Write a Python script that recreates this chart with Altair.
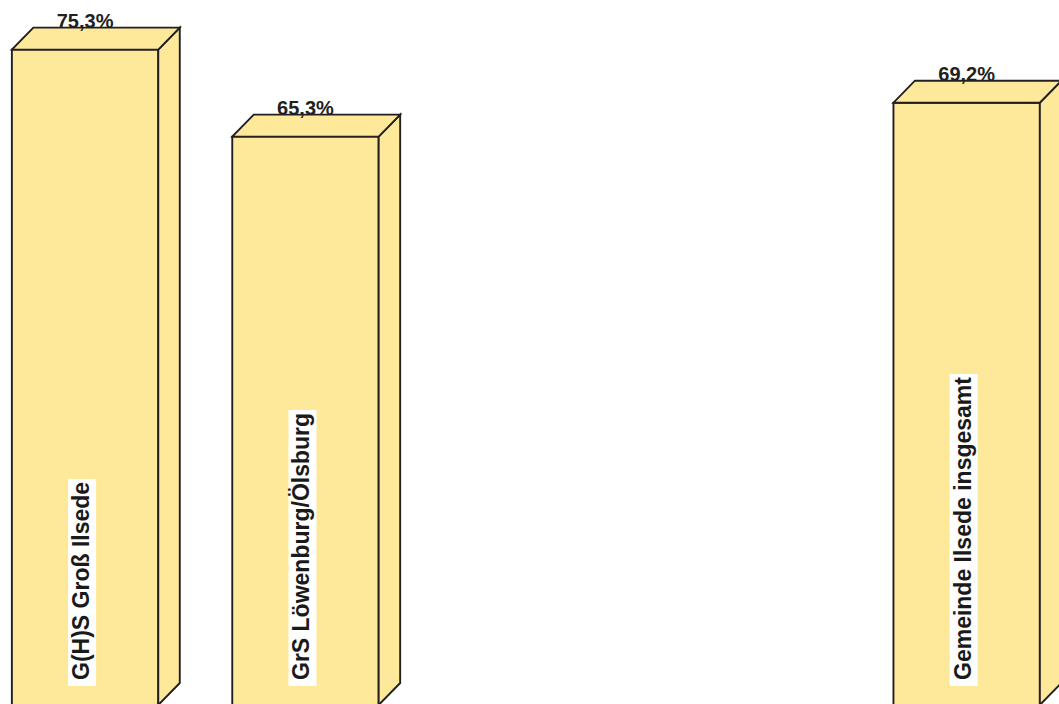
import altair as alt
import pandas as pd

# ---- data ----
categories = ["G(H)S Groß Ilsede", "GrS Löwenburg/Ölsburg", "Gemeinde Ilsede insgesamt"]
slots = [0, 1, 4]            # positions among 5 category slots (slots 2 and 3 are empty)
values = [75.3, 65.3, 69.2]  # percent

# ---- layout / style ----
W, H = 1059, 705
YMAX = 81.0
XMIN, XMAX = -0.386, 4.419
PXY = H / YMAX
PXX = W / (XMAX - XMIN)
HALF = 73.2 / PXX      # half width of front face (x units)
DX = 21.5 / PXX        # 3D depth, horizontal
DY = 22.0 / PXY        # 3D depth, vertical
FILL = "#FEE99A"
EDGE = "#231F20"
TEXT = "#1A1A1A"
FONT = "Liberation Sans"
LABEL_SIZE = 23
SW = 1.9

# approximate Arial-Bold glyph widths (em) to size the white label boxes
METRICS = {
    0.278: " iIl/", 0.333: "()t", 0.389: "r", 0.556: "seacz0123456789",
    0.611: "ndbugoößLhkpqy", 0.667: "S", 0.722: "H", 0.778: "GÖwO", 0.889: "m",
}
parts = ["0.6*length(datum.cat)"]
for w, chars in METRICS.items():
    parts.append(f"({w - 0.6:.3f})*length(replace(datum.cat, regexp('[^{chars}]', 'g'), ''))")
WIDTH_EXPR = " + ".join(parts)

df = pd.DataFrame({"cat": categories, "slot": slots, "value": values})
base = alt.Chart(df).transform_calculate(z="0")

xs = alt.Scale(domain=[XMIN, XMAX], nice=False, zero=False)
ys = alt.Scale(domain=[0, YMAX], nice=False, zero=False)

front = base.transform_calculate(
    x0=f"datum.slot - {HALF}", x1=f"datum.slot + {HALF}"
).mark_rect(fill=FILL, stroke=EDGE, strokeWidth=SW).encode(
    x=alt.X("x0:Q", scale=xs, axis=None),
    x2="x1:Q",
    y=alt.Y("value:Q", scale=ys, axis=None),
    y2="z:Q",
)

two = base.transform_calculate(k="[0, 1]").transform_flatten(["k"])

side = two.transform_calculate(
    sx=f"datum.slot + {HALF} + datum.k * {DX}",
    st=f"datum.value + datum.k * {DY}",
    sb=f"datum.k * {DY}",
).mark_area(fill=FILL, stroke=EDGE, strokeWidth=SW, strokeJoin="miter").encode(
    x=alt.X("sx:Q", scale=xs, axis=None),
    y=alt.Y("st:Q", scale=ys, axis=None, stack=None),
    y2="sb:Q",
    detail="cat:N",
)

top = two.transform_calculate(
    ty=f"datum.value + datum.k * {DY}",
    tl=f"datum.slot - {HALF} + datum.k * {DX}",
    tr=f"datum.slot + {HALF} + datum.k * {DX}",
).mark_area(orient="horizontal", fill=FILL, stroke=EDGE, strokeWidth=SW, strokeJoin="miter").encode(
    y=alt.Y("ty:Q", scale=ys, axis=None),
    x=alt.X("tl:Q", scale=xs, axis=None, stack=None),
    x2="tr:Q",
    detail="cat:N",
)

box = base.transform_calculate(tw=WIDTH_EXPR).transform_calculate(
    bx0=f"datum.slot - {17 / PXX}",
    bx1=f"datum.slot + {11 / PXX}",
    by0=f"{19 / PXY}",
    by1=f"(28 + datum.tw * {LABEL_SIZE}) / {PXY}",
).mark_rect(fill="white").encode(
    x=alt.X("bx0:Q", scale=xs, axis=None),
    x2="bx1:Q",
    y=alt.Y("by0:Q", scale=ys, axis=None),
    y2="by1:Q",
)

labels = base.mark_text(
    angle=270, align="left", baseline="alphabetic", dx=25, dy=4,
    font=FONT, fontSize=LABEL_SIZE, fontWeight="bold", color=TEXT,
).encode(
    x=alt.X("slot:Q", scale=xs, axis=None),
    y=alt.Y("z:Q", scale=ys, axis=None),
    text="cat:N",
)

vals = base.transform_calculate(
    vy=f"datum.value + {DY}",
    vt="replace(format(datum.value, '.1f'), '.', ',') + '%'",
).mark_text(
    align="center", baseline="alphabetic", dy=0,
    font=FONT, fontSize=20, fontWeight="bold", color=EDGE,
).encode(
    x=alt.X("slot:Q", scale=xs, axis=None),
    y=alt.Y("vy:Q", scale=ys, axis=None),
    text="vt:N",
)

chart = alt.layer(front, side, top, box, labels, vals).properties(
    width=W, height=H, padding=0, autosize=alt.AutoSizeParams(type="none"),
    background="white",
).configure_view(strokeWidth=0)

chart.save("out.html", embed_options={"renderer": "svg", "actions": False})
